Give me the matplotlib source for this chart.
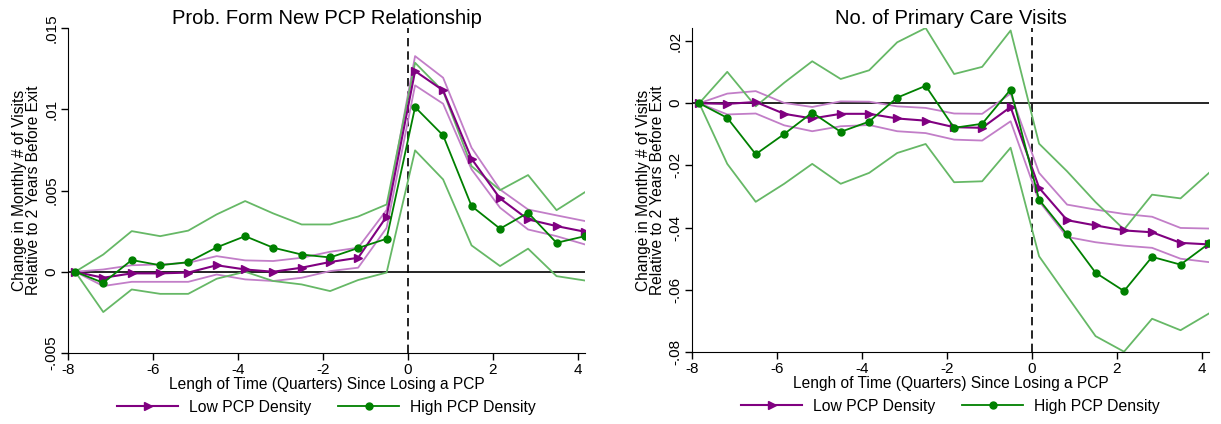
import numpy as np
import matplotlib
matplotlib.use("Agg")
import matplotlib.pyplot as plt

plt.rcParams['font.family'] = ['Liberation Sans', 'DejaVu Sans']

# quarters since losing a PCP (one point every two months)
quarters = [-7.83, -7.17, -6.5, -5.83, -5.17, -4.5, -3.83, -3.17, -2.5, -1.83,
            -1.17, -0.5, 0.17, 0.83, 1.5, 2.17, 2.83, 3.5, 4.17]

# panel 1: prob. form new PCP relationship
p1_low = [0, -0.00037, -0.0001, -0.0001, -0.00005, 0.0004, 0.00014, 0.0, 0.00025, 0.0006,
          0.00086, 0.0034, 0.01235, 0.01116, 0.00695, 0.00451, 0.00322, 0.00281, 0.00246]
p1_low_hi = [0, 0.00014, 0.0004, 0.00045, 0.00055, 0.00096, 0.0007, 0.00066, 0.00086, 0.00123,
             0.00148, 0.0038, 0.01327, 0.01194, 0.00763, 0.00506, 0.00383, 0.00347, 0.00312]
p1_low_lo = [0, -0.00088, -0.00062, -0.00062, -0.00062, -0.00017, -0.00047, -0.00057, -0.00037, 0.00004,
             0.00025, 0.0027, 0.01147, 0.01034, 0.0063, 0.00394, 0.0026, 0.00219, 0.00168]
p1_high = [0, -0.00068, 0.00072, 0.0004, 0.00059, 0.0015, 0.00219, 0.00148, 0.00106, 0.00088,
           0.00146, 0.00203, 0.01013, 0.00839, 0.00404, 0.00265, 0.00363, 0.00178, 0.00219]
p1_high_hi = [0, 0.00106, 0.0025, 0.00219, 0.00253, 0.00353, 0.00435, 0.00359, 0.00291, 0.00291,
              0.0034, 0.00414, 0.01286, 0.01111, 0.0065, 0.00502, 0.00595, 0.00379, 0.0049]
p1_high_lo = [0, -0.00248, -0.00109, -0.00136, -0.00136, -0.00043, 0.0, -0.00057, -0.00078, -0.00119,
              -0.00051, -0.00005, 0.00747, 0.00568, 0.00162, 0.00035, 0.00142, -0.00027, -0.00054]

# panel 2: no. of primary care visits
p2_low = [0, -0.0002, 0.0004, -0.0034, -0.0049, -0.0034, -0.0034, -0.0049, -0.0056, -0.0077,
          -0.0079, -0.0012, -0.0272, -0.0376, -0.0393, -0.0409, -0.0415, -0.0449, -0.0454]
p2_low_hi = [0, 0.0031, 0.0039, 0.0001, -0.0012, 0.0006, 0.0005, -0.001, -0.0015, -0.0033,
             -0.0034, 0.0031, -0.0224, -0.0326, -0.0342, -0.0356, -0.0365, -0.0401, -0.0403]
p2_low_lo = [0, -0.0036, -0.0033, -0.0071, -0.009, -0.0074, -0.007, -0.009, -0.0096, -0.0117,
             -0.012, -0.0058, -0.0315, -0.043, -0.0447, -0.0458, -0.0465, -0.05, -0.0511]
p2_high = [0, -0.0047, -0.0164, -0.0099, -0.003, -0.0092, -0.0059, 0.0018, 0.0056, -0.0079,
           -0.0066, 0.0044, -0.031, -0.0422, -0.0545, -0.0604, -0.0494, -0.0519, -0.0451]
p2_high_hi = [0, 0.0101, -0.001, 0.0066, 0.0135, 0.0078, 0.0106, 0.0196, 0.0242, 0.0094,
              0.0117, 0.0234, -0.013, -0.0219, -0.0318, -0.0406, -0.0294, -0.0306, -0.0224]
p2_high_lo = [0, -0.0195, -0.0317, -0.0259, -0.0195, -0.0259, -0.0224, -0.016, -0.0131, -0.0254,
              -0.0251, -0.0143, -0.0492, -0.062, -0.0749, -0.0799, -0.0693, -0.073, -0.0676]

p1_yticks = [-0.005, 0, 0.005, 0.01, 0.015]
p1_ylabels = ['-.005', '0', '.005', '.01', '.015']
p2_yticks = [-0.08, -0.06, -0.04, -0.02, 0, 0.02]
p2_ylabels = ['-.08', '-.06', '-.04', '-.02', '0', '.02']
xticks = [-8, -6, -4, -2, 0, 2, 4]

purple = '#800080'
purple_ci = '#c27ec8'
green = '#008000'
green_ci = '#66b866'


def draw_panel(ax, title, low, low_hi, low_lo, high, high_hi, high_lo, yticks, ylabels, ylim):
    ax.axhline(0, color='black', lw=1.2, zorder=1)
    ax.axvline(0, color='black', lw=1.2, ls=(0, (5, 3)), zorder=1)
    ax.plot(quarters, low_hi, color=purple_ci, lw=1.3)
    ax.plot(quarters, low_lo, color=purple_ci, lw=1.3)
    ax.plot(quarters, high_hi, color=green_ci, lw=1.3)
    ax.plot(quarters, high_lo, color=green_ci, lw=1.3)
    ax.plot(quarters, low, color=purple, lw=1.5, marker='>', ms=5.5, label='Low PCP Density')
    ax.plot(quarters, high, color=green, lw=1.3, marker='o', ms=5, label='High PCP Density')
    ax.set_xlim(-8, 4.17)
    ax.set_ylim(*ylim)
    ax.set_xticks(xticks)
    ax.set_xticklabels([str(t) for t in xticks])
    ax.set_yticks(yticks)
    ax.set_yticklabels(ylabels, rotation=90, va='center')
    ax.tick_params(labelsize=11, length=5, width=1, pad=2)
    ax.spines['top'].set_visible(False)
    ax.spines['right'].set_visible(False)
    ax.set_title(title, fontsize=14.5, pad=3)
    ax.set_xlabel('Lengh of Time (Quarters) Since Losing a PCP', fontsize=11.2, labelpad=0)
    ax.set_ylabel('Change in Monthly # of Visits\nRelative to 2 Years Before Exit',
                  fontsize=11.2, labelpad=2, linespacing=0.95)
    ax.legend(loc='upper center', bbox_to_anchor=(0.5, -0.1), ncol=2, frameon=False,
              fontsize=11.3, handlelength=3.9, columnspacing=1.7, handletextpad=0.7)


fig = plt.figure(figsize=(12.21, 4.24), dpi=100)
ax1 = fig.add_axes([68 / 1221, 1 - 353 / 424, 517 / 1221, 325 / 424])
ax2 = fig.add_axes([692 / 1221, 1 - 352 / 424, 517 / 1221, 324 / 424])

draw_panel(ax1, 'Prob. Form New PCP Relationship', p1_low, p1_low_hi, p1_low_lo,
           p1_high, p1_high_hi, p1_high_lo, p1_yticks, p1_ylabels, (-0.005, 0.015))
draw_panel(ax2, 'No. of Primary Care Visits', p2_low, p2_low_hi, p2_low_lo,
           p2_high, p2_high_hi, p2_high_lo, p2_yticks, p2_ylabels, (-0.08, 0.0242))

fig.savefig('out.png', dpi=100)
